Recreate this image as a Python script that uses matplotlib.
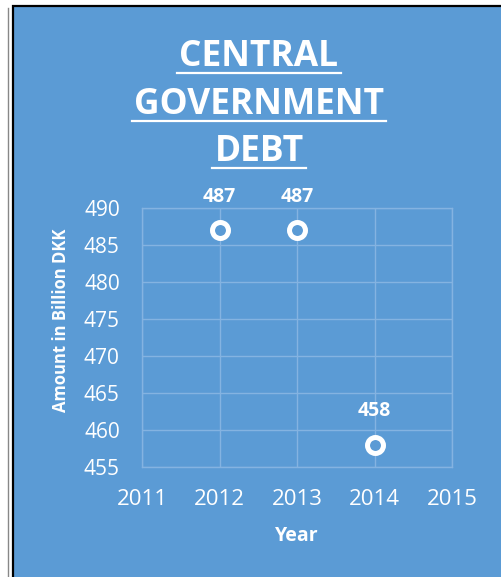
import matplotlib
matplotlib.use("Agg")
import matplotlib.pyplot as plt
from matplotlib.patches import Rectangle
from matplotlib.lines import Line2D

plt.rcParams['font.family'] = ['Open Sans', 'DejaVu Sans']

# ---- data ----
years = [2012, 2013, 2014]
debt = [487, 487, 458]
xticks = [2011, 2012, 2013, 2014, 2015]
yticks = [455, 460, 465, 470, 475, 480, 485, 490]
title_lines = ["CENTRAL", "GOVERNMENT", "DEBT"]

BLUE = "#5b9bd5"
GRID = "#84b3e1"
W, H = 501, 577
DPI = 100

fig = plt.figure(figsize=(W / DPI, H / DPI), dpi=DPI)
fig.patch.set_facecolor("white")

# panel background + borders (pixel coords -> figure fraction)
def fx(px):
    return px / W

def fy(py):
    return 1 - py / H

fig.patches.append(Rectangle((fx(13), fy(H + 10)), fx(W + 5) - fx(13), fy(6) - fy(H + 10),
                             transform=fig.transFigure, facecolor=BLUE,
                             edgecolor="black", linewidth=1.6, zorder=-2))
fig.lines.append(Line2D([fx(7.5), fx(7.5)], [0, fy(8)], transform=fig.transFigure,
                        color="#888888", linewidth=1.0, zorder=-1))

ax = fig.add_axes([fx(142), fy(467), fx(452) - fx(142), fy(208) - fy(467)])
ax.set_facecolor("none")

ax.plot(years, debt, linestyle="none", marker="o", markersize=11.5,
        markerfacecolor=BLUE, markeredgecolor="white", markeredgewidth=3.6,
        zorder=3)
for x, y in zip(years, debt):
    ax.annotate(str(y), (x, y), xytext=(0, 24), textcoords="offset points",
                ha="center", va="center", color="white", fontsize=14,
                fontweight="bold")

ax.set_xlim(2011, 2015)
ax.set_ylim(455, 490)
ax.set_xticks(xticks)
ax.set_yticks(yticks)
ax.set_xticklabels([str(v) for v in xticks])
ax.grid(True, color=GRID, linewidth=1.0)
for s in ax.spines.values():
    s.set_color(GRID)
    s.set_linewidth(1.0)
ax.tick_params(axis="both", length=0, colors="white")
ax.tick_params(axis="y", pad=16, labelsize=15)
ax.tick_params(axis="x", pad=16, labelsize=16)

ax.set_ylabel("Amount in Billion DKK", color="white", fontsize=12,
              fontweight="bold", va="center")
ax.yaxis.set_label_coords((61 - 142) / 310, (467 - 320) / 259)
ax.set_xlabel("Year", color="white", fontsize=14, fontweight="bold",
              va="center")
ax.xaxis.set_label_coords(0.5, (467 - 536) / 259)

# title with underlines
baselines = [66, 114, 161]
fig.canvas.draw()
renderer = fig.canvas.get_renderer()
for line, base in zip(title_lines, baselines):
    t = fig.text(fx(259), fy(base), line, ha="center", va="baseline",
                 color="white", fontsize=25.5, fontweight="bold")
    bb = t.get_window_extent(renderer)
    x0 = bb.x0 / W - fx(2)
    x1 = bb.x1 / W + fx(2)
    fig.lines.append(Line2D([x0, x1], [fy(base + 7), fy(base + 7)],
                            transform=fig.transFigure, color="white",
                            linewidth=1.6))

fig.savefig("out.png", dpi=DPI)
